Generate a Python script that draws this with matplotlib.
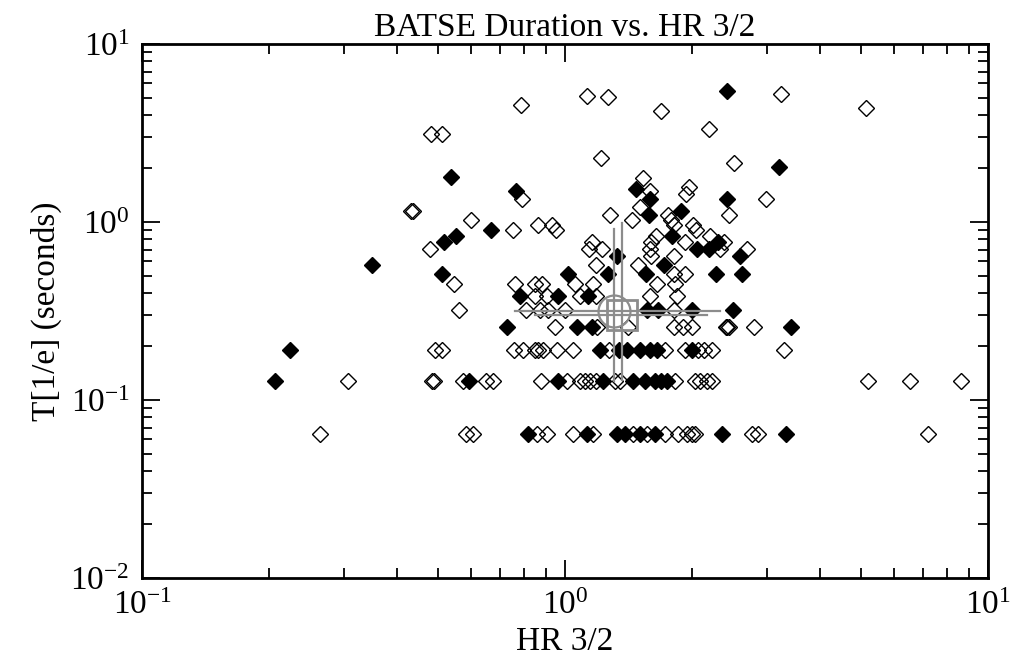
import numpy as np
import matplotlib
matplotlib.use("Agg")
from matplotlib import pyplot as plt

# open diamonds: HR 3/2 and T[1/e] (seconds)
open_hr = [
    0.787, 0.482, 0.513, 1.126, 1.265, 3.24, 5.15, 1.69, 2.19, 1.217, 2.51,
    0.790, 0.432, 0.437, 0.598, 0.755, 0.865, 0.933, 0.95, 0.480,
    1.53, 1.59, 1.96, 1.93, 2.99, 1.28, 1.50, 1.44, 1.75, 1.78, 1.81, 2.44, 2.01, 2.04,
    1.157, 1.141, 1.22, 1.64, 1.60, 1.92, 2.20, 2.37, 2.32, 2.69, 1.59,
    1.18, 1.49, 1.81, 1.60, 1.81, 1.92,
    0.547, 0.762, 0.849, 0.881, 1.055, 1.167, 1.65, 1.82,
    0.85, 0.905, 1.085, 1.18, 1.59, 1.84,
    0.561, 0.807, 0.873, 0.91, 1.0, 1.81,
    0.947, 1.19, 1.41, 1.81, 1.90, 1.99, 2.40, 2.42, 2.44, 2.79,
    0.493, 0.511, 0.757, 0.797, 0.849, 0.861, 0.889, 0.955, 1.046, 1.27,
    1.72, 1.92, 2.06, 2.13, 2.22, 3.30,
    0.306, 0.485, 0.490, 0.573, 0.649, 0.677, 0.877, 1.01, 1.085, 1.115,
    1.146, 1.18, 1.31, 1.35, 1.82, 2.03, 2.08, 2.16, 2.22, 5.21, 6.54, 8.63,
    0.264, 0.583, 0.605, 0.857, 0.905, 1.046, 1.167, 1.45, 1.566, 1.72,
    1.85, 1.94, 1.99, 2.03, 2.76, 2.86, 7.2,
]
open_t = [
    4.54, 3.11, 3.11, 5.10, 5.06, 5.22, 4.35, 4.22, 3.32, 2.28, 2.14,
    1.35, 1.152, 1.152, 1.024, 0.896, 0.96, 0.96, 0.896, 0.704,
    1.77, 1.50, 1.58, 1.43, 1.344, 1.088, 1.216, 1.024, 1.088, 1.024, 0.96, 1.088, 0.96, 0.896,
    0.768, 0.704, 0.704, 0.832, 0.768, 0.768, 0.832, 0.768, 0.704, 0.704, 0.704,
    0.576, 0.576, 0.64, 0.64, 0.512, 0.512,
    0.448, 0.448, 0.448, 0.448, 0.448, 0.448, 0.448, 0.448,
    0.384, 0.384, 0.384, 0.384, 0.384, 0.384,
    0.32, 0.32, 0.32, 0.32, 0.32, 0.32,
    0.256, 0.256, 0.256, 0.256, 0.256, 0.256, 0.256, 0.256, 0.256, 0.256,
    0.192, 0.192, 0.192, 0.192, 0.192, 0.192, 0.192, 0.192, 0.192, 0.192,
    0.192, 0.192, 0.192, 0.192, 0.192, 0.192,
    0.128, 0.128, 0.128, 0.128, 0.128, 0.128, 0.128, 0.128, 0.128, 0.128,
    0.128, 0.128, 0.128, 0.128, 0.128, 0.128, 0.128, 0.128, 0.128, 0.128, 0.128, 0.128,
    0.064, 0.064, 0.064, 0.064, 0.064, 0.064, 0.064, 0.064, 0.064, 0.064,
    0.064, 0.064, 0.064, 0.064, 0.064, 0.064, 0.064,
]

# filled diamonds
filled_hr = [
    0.206, 0.224, 0.349, 0.513, 0.516, 0.551, 0.537, 0.764, 0.667, 0.594,
    0.783, 0.96, 0.730, 0.816, 0.96, 1.018, 1.265, 1.55, 2.27, 2.62,
    1.71, 1.33, 2.59, 2.05, 2.19, 2.30, 1.79, 1.88, 1.58, 1.59,
    1.47, 2.42, 3.21, 2.41, 1.13,
    1.566, 1.66, 1.99, 2.50,
    1.066, 1.157, 3.42,
    1.212, 1.34, 1.40, 1.50, 1.59, 1.65, 1.99,
    1.232, 1.45, 1.545, 1.63, 1.69, 1.74,
    1.125, 1.325, 1.386, 1.50, 1.63, 2.35, 3.33,
]
filled_t = [
    0.128, 0.192, 0.576, 0.512, 0.768, 0.832, 1.79, 1.50, 0.896, 0.128,
    0.384, 0.384, 0.256, 0.064, 0.128, 0.512, 0.512, 0.512, 0.512, 0.512,
    0.576, 0.64, 0.64, 0.704, 0.704, 0.768, 0.832, 1.152, 1.088, 1.344,
    1.536, 1.344, 2.048, 5.44, 0.384,
    0.32, 0.32, 0.32, 0.32,
    0.256, 0.256, 0.256,
    0.192, 0.192, 0.192, 0.192, 0.192, 0.192, 0.192,
    0.128, 0.128, 0.128, 0.128, 0.128, 0.128,
    0.064, 0.064, 0.064, 0.064, 0.064, 0.064, 0.064,
]

# gray summary markers with ranges: circle and square
circ_hr, circ_t = 1.306, 0.318
circ_hr_range = [0.762, 2.32]
circ_t_range = [0.127, 0.913]
sq_hr, sq_t = 1.36, 0.300
sq_hr_range = [0.849, 2.17]
sq_t_range = [0.13, 0.984]

plt.rcParams['font.family'] = ['Liberation Serif', 'DejaVu Serif']
plt.rcParams['mathtext.fontset'] = 'custom'
plt.rcParams['mathtext.rm'] = 'Liberation Serif'

fig = plt.figure(figsize=(10.15, 6.72), dpi=100)
ax = fig.add_axes([0.140, 0.140, 0.8335, 0.7945])

ax.plot(open_hr, open_t, 'D', ms=7.8, mfc='none', mec='black', mew=1.0, ls='none')
ax.plot(filled_hr, filled_t, 'D', ms=7.8, mfc='black', mec='black', mew=1.0, ls='none')

gray = '#8c8c8c'
ax.plot(circ_hr_range, [circ_t, circ_t], color=gray, lw=1.6)
ax.plot([circ_hr, circ_hr], circ_t_range, color=gray, lw=1.6)
ax.plot(sq_hr_range, [sq_t, sq_t], color=gray, lw=1.6)
ax.plot([sq_hr, sq_hr], sq_t_range, color=gray, lw=1.6)
ax.plot(circ_hr, circ_t, 'o', ms=23, mfc='none', mec=gray, mew=1.6)
ax.plot(sq_hr, sq_t, 's', ms=22, mfc='none', mec=gray, mew=2.0)

ax.set_xscale('log')
ax.set_yscale('log')
ax.set_xlim(0.1, 10)
ax.set_ylim(0.01, 10)

ax.tick_params(which='both', direction='in', top=True, right=True, labelsize=24, width=1.3)
ax.tick_params(which='major', length=13, pad=9)
ax.tick_params(which='minor', length=7)
for s in ax.spines.values():
    s.set_linewidth(2.0)

ax.set_title('BATSE Duration vs. HR 3/2', fontsize=24, pad=6)
ax.set_xlabel('HR 3/2', fontsize=24, labelpad=4)
ax.set_ylabel('T[1/e] (seconds)', fontsize=24, labelpad=6)

plt.savefig('out.png', dpi=100)
